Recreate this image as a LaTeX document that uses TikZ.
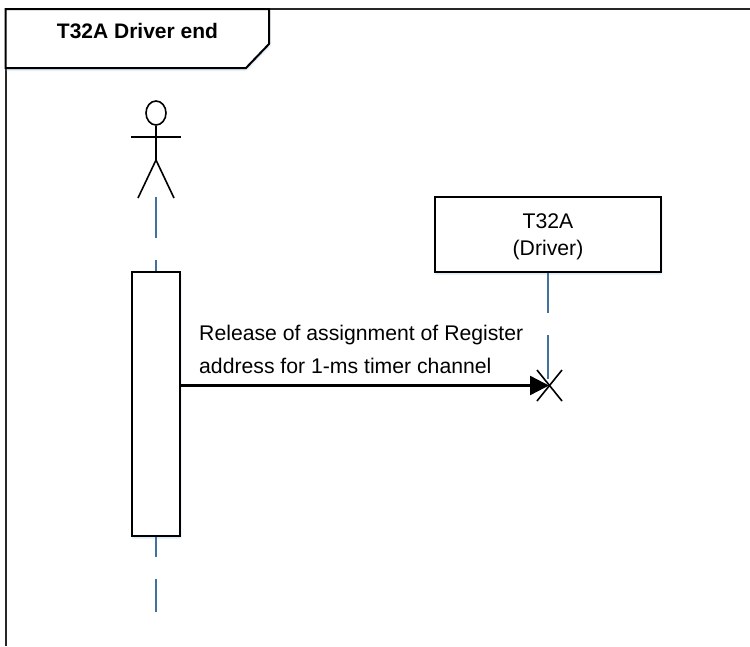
\documentclass[tikz,border=0pt]{standalone}
\usepackage{fontspec}
\setmainfont{Liberation Sans}
\usetikzlibrary{arrows.meta,shadows,calc,shapes.geometric}
\definecolor{lifeblue}{HTML}{41719C}
\definecolor{glow}{HTML}{9DC3E6}
\tikzset{
  softshadow/.style={drop shadow={shadow xshift=0pt,shadow yshift=-3pt,fill=glow,opacity=.22},
                     drop shadow={shadow xshift=2pt,shadow yshift=-2pt,fill=glow,opacity=.15}},
  ink/.style={draw=black,line width=2pt},
  boxnode/.style={ink,fill=white,softshadow,inner sep=0pt,align=center,font=\fontsize{21.2pt}{27pt}\selectfont},
  lifeline/.style={draw=lifeblue,line width=2.4pt},
  stick/.style={draw=black,line width=1.6pt},
  msg/.style={draw=black,line width=2.4pt,-{Triangle[length=19pt,width=19pt]}},
  msgtext/.style={align=left,inner sep=0pt,anchor=north west,font=\fontsize{21.2pt}{33pt}\selectfont},
}
\begin{document}
\begin{tikzpicture}[x=1pt,y=-1pt]
\useasboundingbox (0,0) rectangle (750,646);
% frame
\draw[ink,draw=black!85] (5.5,646) -- (5.5,9) -- (750,9);
\path[ink,fill=white,softshadow] (5.5,9) -- (269,9) -- (269,44) -- (246,68) -- (5.5,68) -- cycle;
\node[font=\bfseries\fontsize{21pt}{24pt}\selectfont,inner sep=0pt] (title) at (137.5,31.5) {T32A Driver end};
% actor
\node[stick,ellipse,draw,minimum width=20pt,minimum height=24pt,inner sep=0pt,fill=white] (head) at (156,113) {};
\coordinate (hip) at (156,160);
\coordinate (armL) at (131,137);
\coordinate (armR) at (181,137);
\coordinate (legL) at (138,198);
\coordinate (legR) at (174,198);
\draw[stick] (head.south) -- (hip);
\draw[stick] (armL) -- (armR);
\draw[stick] (legL) -- (hip) -- (legR);
% activation
\node[boxnode,minimum width=48pt,minimum height=264pt] (act) at (156,404) {};
% driver box
\node[boxnode,minimum width=226pt,minimum height=75pt,text depth=0pt] (drv) at (548,234.5) {\raisebox{0pt}{T32A}\\(Driver)};
% lifelines
\coordinate (a1) at (156,197);
\coordinate (a2) at (156,238);
\coordinate (a3) at (156,260);
\coordinate (a4) at (156,557);
\coordinate (a5) at (156,579);
\coordinate (a6) at (156,612);
\coordinate (d2) at (548,313);
\coordinate (d3) at (548,335);
\coordinate (d4) at (548,379);
\coordinate (x) at (549,385.5);
\draw[lifeline] (a1) -- (a2);
\draw[lifeline] (a3) -- (act.north);
\draw[lifeline] (act.south) -- (a4);
\draw[lifeline] (a5) -- (a6);
\draw[lifeline] (drv.south -| d2) -- (d2);
\draw[lifeline] (d3) -- (d4);
% message
\draw[msg] (act.east |- x) -- (x);
\node[msgtext] (lab) at (199,325) {Release of assignment of Register\\address for 1-ms timer channel};
% destruction cross
\coordinate (c1) at (537,370);
\coordinate (c2) at (562,401);
\coordinate (c3) at (562,370);
\coordinate (c4) at (537,401);
\draw[stick] (c1) -- (c2);
\draw[stick] (c3) -- (c4);
\end{tikzpicture}
\end{document}
